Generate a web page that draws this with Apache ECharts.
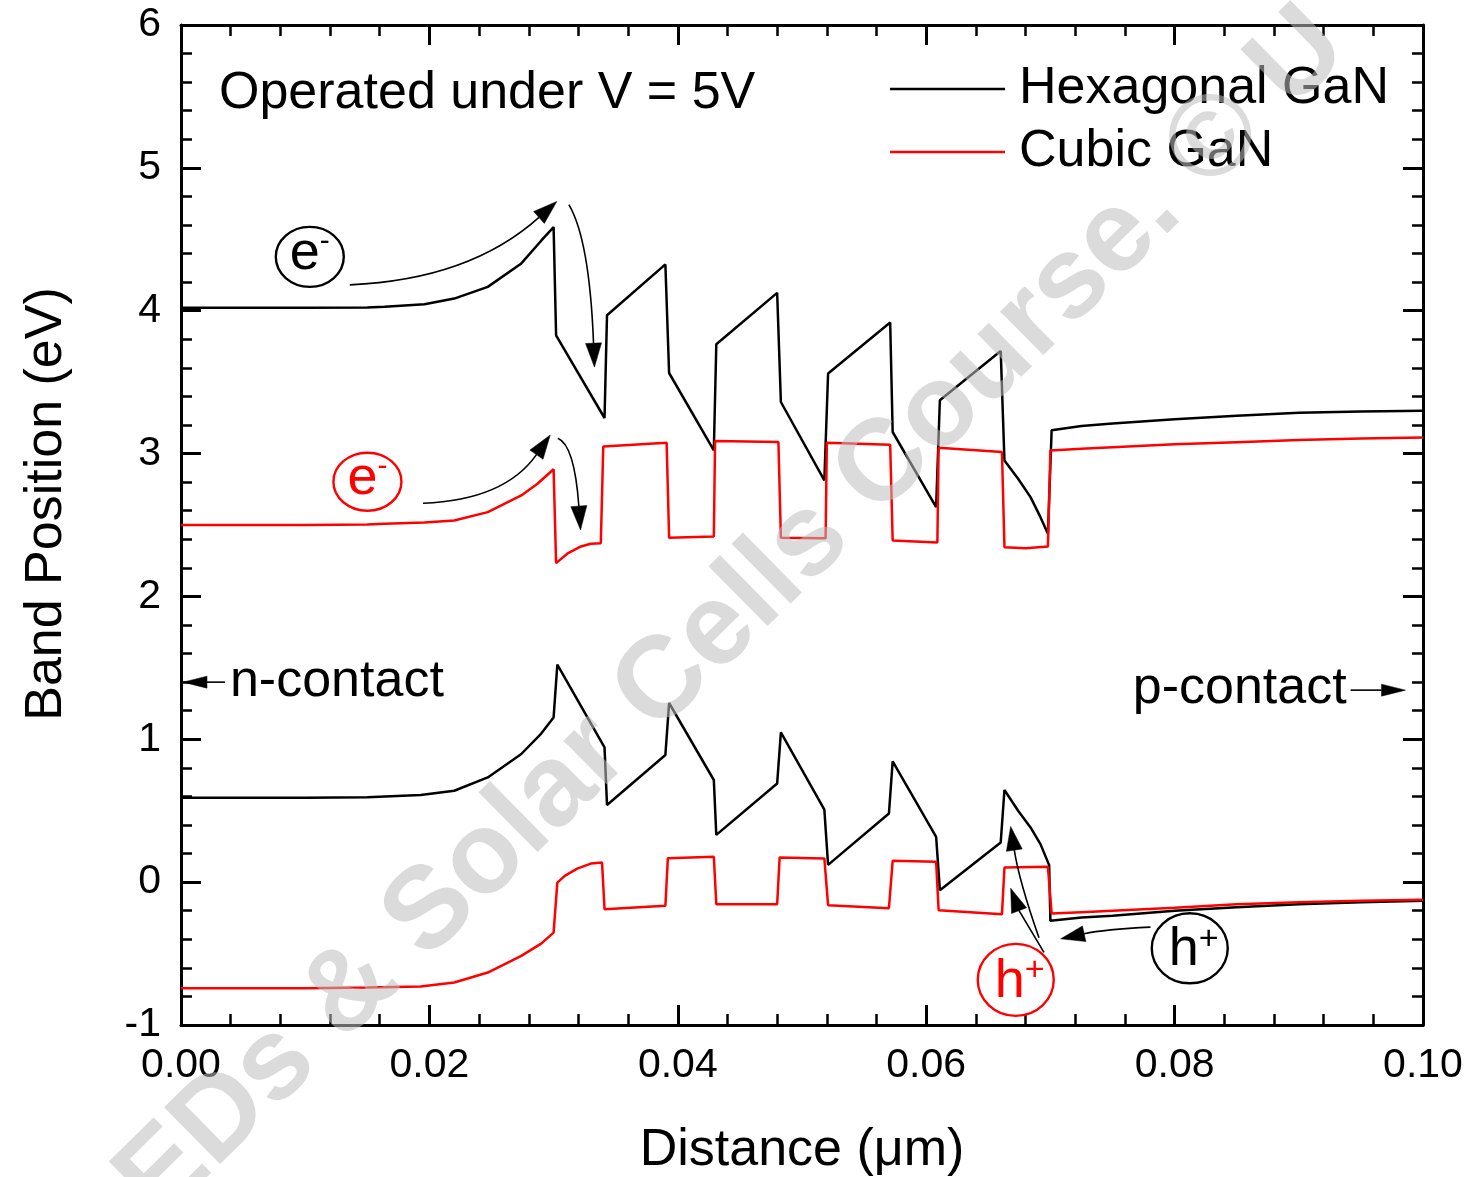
<!DOCTYPE html>
<html>
<head>
<meta charset="utf-8">
<script src="https://cdn.jsdelivr.net/npm/echarts@6/dist/echarts.min.js"></script>
<style>
html,body{margin:0;padding:0;background:#fff;}
#chart{width:1473px;height:1177px;}
</style>
</head>
<body>
<div id="chart"></div>
<script>
// Band edges along the device (distance in µm, energy in eV)
// Hexagonal GaN — conduction band
const hexCbX = [0, 0.005, 0.010, 0.015, 0.0164, 0.0196, 0.0220, 0.0247, 0.0274, 0.0290, 0.0300,
  0.0302, 0.0341, 0.0343, 0.0390, 0.0393, 0.0429, 0.0431, 0.0480, 0.0483, 0.0518, 0.0521, 0.0571,
  0.0573, 0.0608, 0.0611, 0.0660, 0.0663, 0.0674, 0.0684, 0.0692, 0.0698, 0.0701,
  0.0725, 0.075, 0.080, 0.085, 0.090, 0.095, 0.100];
const hexCbY = [4.02, 4.02, 4.02, 4.022, 4.027, 4.045, 4.085, 4.167, 4.331, 4.49, 4.585,
  3.828, 3.249, 3.968, 4.324, 3.564, 3.022, 3.765, 4.125, 3.361, 2.812, 3.56, 3.917,
  3.151, 2.625, 3.373, 3.718, 2.952, 2.824, 2.695, 2.555, 2.439, 3.163,
  3.193, 3.21, 3.24, 3.265, 3.285, 3.295, 3.30];

// Cubic GaN — conduction band
const cubCbX = [0, 0.005, 0.010, 0.015, 0.0164, 0.0196, 0.0220, 0.0247, 0.0274, 0.0287, 0.0300,
  0.0302, 0.0311, 0.0322, 0.0330, 0.0338,
  0.0340, 0.0391, 0.0393, 0.0429, 0.0430, 0.0481, 0.0483, 0.0519, 0.0520, 0.0571, 0.0573,
  0.0609, 0.0610, 0.0661, 0.0663, 0.0680, 0.0698, 0.0700,
  0.0725, 0.075, 0.080, 0.085, 0.090, 0.095, 0.100];
const cubCbY = [2.50, 2.50, 2.50, 2.503, 2.509, 2.518, 2.532, 2.59, 2.707, 2.789, 2.89,
  2.233, 2.299, 2.35, 2.369, 2.373,
  3.05, 3.076, 2.41, 2.42, 3.088, 3.081, 2.411, 2.408, 3.076, 3.062, 2.392,
  2.378, 3.041, 3.011, 2.345, 2.338, 2.35, 3.022,
  3.034, 3.045, 3.065, 3.08, 3.095, 3.105, 3.113];

// Hexagonal GaN — valence band
const hexVbX = [0, 0.005, 0.010, 0.015, 0.0193, 0.0220, 0.0247, 0.0274, 0.0290, 0.0300,
  0.0303, 0.0341, 0.0343, 0.0390, 0.0393, 0.0429, 0.0431, 0.0480, 0.0483, 0.0518, 0.0521,
  0.0570, 0.0573, 0.0608, 0.0611, 0.0660, 0.0663, 0.0674, 0.0684, 0.0692, 0.0699, 0.0700,
  0.0725, 0.075, 0.080, 0.085, 0.090, 0.095, 0.100];
const hexVbY = [0.59, 0.59, 0.59, 0.595, 0.61, 0.64, 0.733, 0.897, 1.04, 1.153,
  1.523, 0.943, 0.54, 0.89, 1.254, 0.715, 0.331, 0.691, 1.048, 0.507, 0.121,
  0.481, 0.845, 0.317, -0.056, 0.278, 0.645, 0.5, 0.383, 0.266, 0.119, -0.271,
  -0.248, -0.235, -0.2, -0.175, -0.155, -0.14, -0.13];

// Cubic GaN — valence band
const cubVbX = [0, 0.005, 0.010, 0.015, 0.0193, 0.0220, 0.0247, 0.0274, 0.0290, 0.0300,
  0.0303, 0.0309, 0.0319, 0.0330, 0.0339,
  0.0341, 0.0390, 0.0392, 0.0429, 0.0431, 0.0480, 0.0482, 0.0518, 0.0521, 0.0570, 0.0573,
  0.0608, 0.0610, 0.0661, 0.0663, 0.0698, 0.0701,
  0.0725, 0.075, 0.080, 0.085, 0.090, 0.095, 0.100];
const cubVbY = [-0.742, -0.742, -0.742, -0.738, -0.731, -0.703, -0.633, -0.516, -0.43, -0.353,
  -0.003, 0.044, 0.095, 0.13, 0.137,
  -0.189, -0.166, 0.168, 0.177, -0.154, -0.154, 0.173, 0.166, -0.161, -0.182, 0.149,
  0.142, -0.196, -0.224, 0.102, 0.107, -0.22,
  -0.21, -0.2, -0.18, -0.155, -0.14, -0.13, -0.124];

const seriesNames = ['Hexagonal GaN', 'Cubic GaN'];
const xTickLabels = ['0.00', '0.02', '0.04', '0.06', '0.08', '0.10'];
const yTickLabels = ['-1', '0', '1', '2', '3', '4', '5', '6'];

const FONT = '"Liberation Sans", Arial, Helvetica, sans-serif';
const BLACK = '#000000';
const RED = '#ff0000';
const TEXT_SIZE = 52;

function pairs(xs, ys) { return xs.map((x, i) => [x, ys[i]]); }

const chart = echarts.init(document.getElementById('chart'), null, { renderer: 'canvas' });

const tickStyle = {
  axisLine: { show: true, onZero: false, lineStyle: { color: BLACK, width: 3 } },
  axisTick: { show: true, inside: true, length: 20, lineStyle: { color: BLACK, width: 3 } },
  minorTick: { show: true, splitNumber: 5, length: 11, lineStyle: { color: BLACK, width: 2.5 } },
  splitLine: { show: false },
  minorSplitLine: { show: false }
};

function bandSeries(name, xs, ys, color) {
  return {
    name: name,
    type: 'line',
    data: pairs(xs, ys),
    symbol: 'none',
    showSymbol: false,
    smooth: false,
    lineStyle: { color: color, width: 2.5 },
    itemStyle: { color: color },
    emphasis: { disabled: true },
    z: 3
  };
}

chart.setOption({
  animation: false,
  backgroundColor: '#ffffff',
  textStyle: { fontFamily: FONT },
  grid: { left: 181, right: 50, top: 25, bottom: 152, containLabel: false, outerBoundsMode: 'none' },
  legend: {
    orient: 'vertical',
    left: 890,
    top: 63,
    padding: 0,
    itemWidth: 115,
    itemHeight: 2.5,
    itemGap: 11,
    selectedMode: false,
    icon: 'rect',
    data: seriesNames,
    textStyle: { fontSize: TEXT_SIZE, fontFamily: FONT, color: BLACK, padding: [0, 0, 0, 9] }
  },
  xAxis: [
    Object.assign({
      type: 'value', position: 'bottom', min: 0, max: 0.1, interval: 0.02,
      name: 'Distance (\u03bcm)', nameLocation: 'middle', nameGap: 100,
      nameTextStyle: { fontSize: TEXT_SIZE, fontFamily: FONT, color: BLACK },
      axisLabel: {
        show: true, margin: 20, fontSize: 41, fontFamily: FONT, color: BLACK,
        formatter: v => xTickLabels[Math.round(v / 0.02)]
      }
    }, tickStyle),
    Object.assign({
      type: 'value', position: 'top', min: 0, max: 0.1, interval: 0.02,
      axisLabel: { show: false }
    }, tickStyle)
  ],
  yAxis: [
    Object.assign({
      type: 'value', position: 'left', min: -1, max: 6, interval: 1,
      axisLabel: {
        show: true, margin: 20, fontSize: 41, fontFamily: FONT, color: BLACK,
        formatter: v => yTickLabels[Math.round(v + 1)]
      }
    }, tickStyle),
    Object.assign({
      type: 'value', position: 'right', min: -1, max: 6, interval: 1,
      axisLabel: { show: false }
    }, tickStyle)
  ],
  series: [
    bandSeries(seriesNames[0], hexCbX, hexCbY, BLACK),
    bandSeries(seriesNames[1], cubCbX, cubCbY, RED),
    bandSeries(seriesNames[0], hexVbX, hexVbY, BLACK),
    bandSeries(seriesNames[1], cubVbX, cubVbY, RED)
  ]
});

// ---- Annotations, placed in data coordinates ----
// Carrier markers (circled e- / h+)
const carriers = [
  { base: 'e', sup: '-', color: BLACK, at: [0.01037, 4.377], rx: 34, ry: 30 },
  { base: 'e', sup: '-', color: RED,   at: [0.01501, 2.803], rx: 34, ry: 29 },
  { base: 'h', sup: '+', color: BLACK, at: [0.08122, -0.463], rx: 38, ry: 35 },
  { base: 'h', sup: '+', color: RED,   at: [0.06721, -0.684], rx: 38, ry: 36 }
];
// Curved transport arrows: start, control point, tip
const flowArrows = [
  { from: [0.01359, 4.181], ctrl: [0.02324, 4.217], to: [0.03026, 4.765] },
  { from: [0.03123, 4.742], ctrl: [0.03289, 4.497], to: [0.03329, 3.605] },
  { from: [0.01949, 2.652], ctrl: [0.02606, 2.675], to: [0.02973, 3.130] },
  { from: [0.03034, 3.107], ctrl: [0.03168, 3.060], to: [0.03217, 2.465] },
  { from: [0.07806, -0.315], ctrl: [0.07431, -0.331], to: [0.07083, -0.397] },
  { from: [0.06908, -0.390], ctrl: [0.06747, 0.012], to: [0.06680, 0.390] },
  { from: [0.06948, -0.491], ctrl: [0.06747, -0.198], to: [0.06680, -0.042] }
];
// Contact markers
const contacts = [
  { text: 'n-contact', align: 'left',  textAt: [0.00394, 1.40],  from: [0.00354, 1.40],  to: [0.00016, 1.40] },
  { text: 'p-contact', align: 'right', textAt: [0.09385, 1.352], from: [0.09417, 1.344], to: [0.09859, 1.344] }
];

function toPx(p) { return chart.convertToPixel({ xAxisIndex: 0, yAxisIndex: 0 }, p); }

function head(tip, from, len, half, color) {
  const dx = tip[0] - from[0], dy = tip[1] - from[1];
  const d = Math.hypot(dx, dy) || 1;
  const ux = dx / d, uy = dy / d;
  const bx = tip[0] - ux * len, by = tip[1] - uy * len;
  return {
    base: [bx, by],
    el: {
      type: 'polygon', z: 60, silent: true,
      shape: { points: [tip, [bx - uy * half, by + ux * half], [bx + uy * half, by - ux * half]] },
      style: { fill: color, stroke: color, lineWidth: 0.5 }
    }
  };
}

function txt(x, y, text, size, color, align, vAlign, z) {
  return {
    type: 'text', x: x, y: y, z: z || 60, silent: true,
    style: { text: text, font: size + 'px ' + FONT, fill: color, align: align || 'center', verticalAlign: vAlign || 'middle' }
  };
}

function drawAnnotations() {
  const els = [];

  // Condition note
  els.push(txt(219, 94, 'Operated under V = 5V', TEXT_SIZE, BLACK, 'left', 'middle'));

  // Axis title on the left
  els.push({
    type: 'text', x: 47, y: 504, rotation: Math.PI / 2, z: 60, silent: true,
    style: { text: 'Band Position (eV)', font: TEXT_SIZE + 'px ' + FONT, fill: BLACK, align: 'center', verticalAlign: 'middle' }
  });

  carriers.forEach(c => {
    const p = toPx(c.at);
    els.push({
      type: 'ellipse', z: 60, silent: true,
      shape: { cx: p[0], cy: p[1], rx: c.rx, ry: c.ry },
      style: { fill: null, stroke: c.color, lineWidth: 2.4 }
    });
    if (c.base === 'e') {
      els.push(txt(p[0] - 5, p[1] - 3, c.base, 54, c.color));
      els.push(txt(p[0] + 15, p[1] - 15, c.sup, 30, c.color));
    } else {
      els.push(txt(p[0] - 6, p[1] + 2, c.base, 54, c.color));
      els.push(txt(p[0] + 19, p[1] - 9, c.sup, 34, c.color));
    }
  });

  flowArrows.forEach(a => {
    const s = toPx(a.from), c = toPx(a.ctrl), t = toPx(a.to);
    const h = head(t, c, 24, 8, BLACK);
    els.push({
      type: 'bezierCurve', z: 59, silent: true,
      shape: { x1: s[0], y1: s[1], cpx1: c[0], cpy1: c[1], x2: h.base[0], y2: h.base[1] },
      style: { fill: null, stroke: BLACK, lineWidth: 1.6 }
    });
    els.push(h.el);
  });

  contacts.forEach(k => {
    const tp = toPx(k.textAt), f = toPx(k.from), t = toPx(k.to);
    els.push(txt(tp[0], tp[1], k.text, TEXT_SIZE, BLACK, k.align, 'middle'));
    const h = head(t, f, 24, 6, BLACK);
    els.push({
      type: 'line', z: 59, silent: true,
      shape: { x1: f[0], y1: f[1], x2: h.base[0], y2: h.base[1] },
      style: { stroke: BLACK, lineWidth: 1.6 }
    });
    els.push(h.el);
  });

  // Course watermark across the figure
  els.push({
    type: 'text', x: 127, y: 1292, rotation: 44.5 * Math.PI / 180, z: 100, silent: true,
    style: {
      text: 'LEDs & Solar Cells Course. \u00a9 U',
      font: 'bold 116px ' + FONT, fill: 'rgba(190,190,190,0.55)', align: 'left', verticalAlign: 'bottom'
    }
  });

  chart.setOption({ graphic: { elements: els } });
}

drawAnnotations();
</script>
</body>
</html>
